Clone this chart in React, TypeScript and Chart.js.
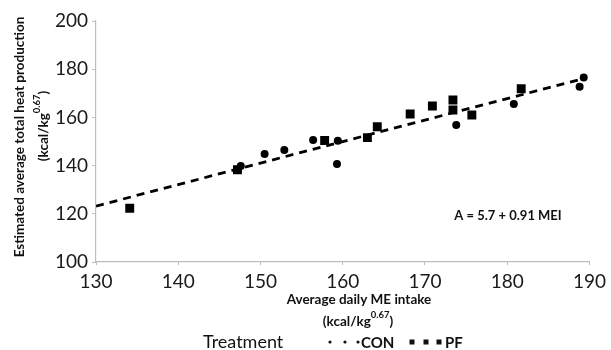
import React, { useEffect, useRef } from "react";
import { Chart, registerables } from "chart.js";

Chart.register(...registerables);

// CON treatment (circles)
const conX = [147.6, 150.5, 152.9, 156.4, 159.4, 159.3, 173.8, 180.8, 188.8, 189.3];
const conY = [139.8, 144.8, 146.5, 150.6, 150.3, 140.7, 156.8, 165.6, 172.7, 176.6];
// PF treatment (squares)
const pfX = [134.1, 147.2, 157.8, 163.0, 164.2, 168.2, 170.9, 173.4, 173.4, 175.7, 181.7];
const pfY = [122.3, 138.3, 150.4, 151.6, 156.1, 161.4, 164.7, 167.2, 163.1, 161.0, 171.9];
// Regression line endpoints
const fitX = [130, 189.5];
const fitY = [123.2, 176.3];

const xTicks = [130, 140, 150, 160, 170, 180, 190];
const yTicks = [100, 120, 140, 160, 180, 200];

const xTitle = "Average daily ME intake";
const yTitle = "Estimated average total heat production";
const unitMain = "(kcal/kg";
const unitSup = "0.67";
const unitEnd = ")";
const equation = "A = 5.7 + 0.91 MEI";
const legendTitle = "Treatment";
const legendNames = ["CON", "PF"];

const FONT = "Lato, 'Open Sans', sans-serif";

function drawUnit(ctx: CanvasRenderingContext2D, cx: number, cy: number, size: number) {
  const supSize = size * 0.7;
  ctx.font = `bold ${size}px ${FONT}`;
  const wa = ctx.measureText(unitMain).width;
  const wc = ctx.measureText(unitEnd).width;
  ctx.font = `bold ${supSize}px ${FONT}`;
  const wb = ctx.measureText(unitSup).width;
  let x = cx - (wa + wb + wc) / 2;
  ctx.textAlign = "left";
  ctx.textBaseline = "middle";
  ctx.font = `bold ${size}px ${FONT}`;
  ctx.fillText(unitMain, x, cy);
  x += wa;
  ctx.font = `bold ${supSize}px ${FONT}`;
  ctx.fillText(unitSup, x, cy - size * 0.55);
  x += wb;
  ctx.font = `bold ${size}px ${FONT}`;
  ctx.fillText(unitEnd, x, cy);
}

const textPlugin = {
  id: "texts",
  afterDraw(chart: any) {
    const ctx: CanvasRenderingContext2D = chart.ctx;
    ctx.save();
    ctx.fillStyle = "#111";
    // x title
    ctx.textAlign = "center";
    ctx.textBaseline = "middle";
    ctx.font = `bold 13.5px ${FONT}`;
    ctx.fillText(xTitle, 359, 300);
    drawUnit(ctx, 358, 322, 13.5);
    // y title
    ctx.save();
    ctx.translate(20, 137);
    ctx.rotate(-Math.PI / 2);
    ctx.textAlign = "center";
    ctx.textBaseline = "middle";
    ctx.font = `bold 13.5px ${FONT}`;
    ctx.fillText(yTitle, 0, 0);
    ctx.restore();
    ctx.save();
    ctx.translate(44, 126);
    ctx.rotate(-Math.PI / 2);
    drawUnit(ctx, 0, 0, 13.5);
    ctx.restore();
    // equation
    ctx.textAlign = "center";
    ctx.textBaseline = "middle";
    ctx.font = `bold 13px ${FONT}`;
    ctx.fillText(equation, 508, 216);
    // legend
    ctx.textAlign = "left";
    ctx.font = `18px ${FONT}`;
    ctx.fillText(legendTitle, 203, 342);
    for (const dx of [330, 345, 358]) {
      ctx.beginPath();
      ctx.arc(dx, 342, 1.6, 0, Math.PI * 2);
      ctx.fill();
    }
    ctx.font = `bold 15px ${FONT}`;
    ctx.fillText(legendNames[0], 361, 343);
    for (const dx of [412, 426, 439]) {
      ctx.fillRect(dx - 2.5, 339.5, 5, 5);
    }
    ctx.fillText(legendNames[1], 445, 343);
    ctx.restore();
  },
};

export default function App() {
  const ref = useRef<HTMLCanvasElement | null>(null);
  useEffect(() => {
    document.body.style.margin = "0";
    const canvas = ref.current!;
    const chart = new Chart(canvas, {
      type: "scatter",
      data: {
        datasets: [
          {
            type: "line",
            label: "fit",
            data: fitX.map((x, i) => ({ x, y: fitY[i] })),
            borderColor: "#000",
            borderWidth: 2.8,
            borderDash: [8, 6],
            pointRadius: 0,
            fill: false,
          } as any,
          {
            label: legendNames[0],
            data: conX.map((x, i) => ({ x, y: conY[i] })),
            pointStyle: "circle",
            pointRadius: 4,
            backgroundColor: "#000",
            borderColor: "#000",
            borderWidth: 0,
          },
          {
            label: legendNames[1],
            data: pfX.map((x, i) => ({ x, y: pfY[i] })),
            pointStyle: "rect",
            pointRadius: 6.3,
            backgroundColor: "#000",
            borderColor: "#000",
            borderWidth: 0,
          },
        ],
      },
      options: {
        animation: false,
        responsive: false,
        layout: { padding: { top: 21, right: 2, left: 0, bottom: 0 } },
        plugins: { legend: { display: false }, tooltip: { enabled: false } },
        scales: {
          x: {
            type: "linear",
            min: 130,
            max: 190,
            afterBuildTicks: (s: any) => {
              s.ticks = xTicks.map((v) => ({ value: v }));
            },
            afterFit: (s: any) => {
              s.height = 88;
            },
            grid: { drawOnChartArea: false, tickLength: 3, color: "#bdbdbd" },
            border: { color: "#bdbdbd", width: 1.2 },
            ticks: { font: { family: FONT, size: 19 }, color: "#1a1a1a", padding: 5 },
          },
          y: {
            type: "linear",
            min: 100,
            max: 200,
            afterBuildTicks: (s: any) => {
              s.ticks = yTicks.map((v) => ({ value: v }));
            },
            afterFit: (s: any) => {
              s.width = 96;
            },
            grid: { drawOnChartArea: false, tickLength: 4, color: "#bdbdbd" },
            border: { color: "#bdbdbd", width: 1.2 },
            ticks: { font: { family: FONT, size: 19 }, color: "#1a1a1a", padding: 4 },
          },
        },
      },
      plugins: [textPlugin],
    });
    return () => chart.destroy();
  }, []);
  return (
    <div style={{ width: 611, height: 350, background: "#fff" }}>
      <canvas ref={ref} width={611} height={350} style={{ display: "block" }} />
    </div>
  );
}
